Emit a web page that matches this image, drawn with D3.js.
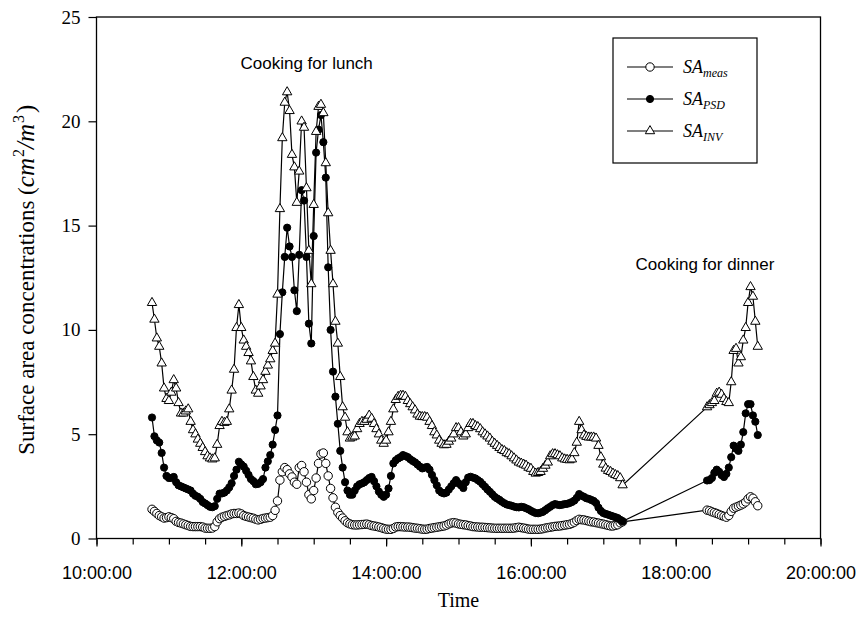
<!DOCTYPE html>
<html>
<head>
<meta charset="utf-8">
<script src="https://cdn.jsdelivr.net/npm/d3@7"></script>
<style>
  body { margin: 0; background: #fff; }
  svg { display: block; }
</style>
</head>
<body>
<div id="chart"></div>
<script>
// Sampling: one scan every 2 minutes, two measurement periods
var scanStep = 2;
var segmentStarts = ["10:46", "18:26"];

// SA_meas (open circles), cm2/m3
var measDay = [1.4,1.3,1.2,1.1,1.04,0.98,1.0,1.04,1.0,0.95,
  0.82,0.77,0.74,0.7,0.66,0.62,0.58,0.57,0.57,0.57,
  0.57,0.55,0.5,0.49,0.49,0.5,0.57,0.8,0.95,1.02,
  1.06,1.1,1.13,1.18,1.2,1.2,1.22,1.18,
  1.1,1.06,1.03,1.0,0.97,0.92,0.89,0.92,0.96,0.98,
  1.0,1.02,1.1,1.35,1.8,2.8,3.2,3.4,3.3,3.1,
  2.95,2.7,2.6,3.4,3.5,3.2,2.7,2.1,1.9,2.3,
  2.9,3.6,4.05,4.1,3.6,3.0,2.4,1.95,1.5,1.25,
  1.1,0.98,0.85,
  0.75,0.7,0.66,0.65,0.65,0.66,0.67,0.68,0.69,0.66,
  0.62,0.6,0.58,0.55,0.52,0.48,0.45,0.44,0.44,0.48,
  0.55,0.57,0.57,0.56,0.55,0.55,0.54,0.52,0.5,0.49,
  0.47,0.45,0.44,0.45,0.48,0.5,0.52,0.54,0.56,0.58,
  0.6,0.64,0.7,0.74,0.76,0.74,0.7,0.68,0.66,0.65,
  0.62,0.6,0.57,0.56,0.55,0.54,0.54,0.53,0.52,0.51,
  0.5,0.49,0.49,0.49,0.49,0.49,0.49,0.49,0.49,0.5,
  0.52,0.54,
  0.52,0.5,0.48,0.45,0.44,0.44,0.44,0.44,0.45,0.47,
  0.5,0.52,0.54,0.56,0.58,0.59,0.6,0.62,0.64,0.66,
  0.68,0.72,0.78,0.86,0.92,0.9,0.89,0.86,0.83,0.8,
  0.79,0.76,0.74,0.71,0.69,0.66,0.63,0.6,0.6,0.63,
  0.66,0.75,0.8];
var measEvening = [1.36,1.33,1.28,1.24,1.2,1.15,1.1,1.06,1.02,1.1,
  1.3,1.45,1.5,1.55,1.6,1.66,1.75,1.9,2.0,1.93,1.76,1.57];

// SA_PSD (filled circles)
var psdDay = [5.8,4.9,4.7,4.6,4.1,3.4,3.0,2.9,2.9,2.95,
  2.7,2.55,2.5,2.45,2.4,2.35,2.3,2.15,2.05,2.0,
  1.9,1.75,1.68,1.6,1.52,1.5,1.55,1.9,2.15,2.16,
  2.2,2.3,2.45,2.65,3.0,3.3,3.68,3.55,
  3.45,3.25,3.05,2.85,2.75,2.6,2.62,2.7,2.85,3.4,
  3.7,4.0,4.5,5.2,5.9,9.8,11.8,13.5,14.9,14.0,
  13.5,11.9,10.9,13.6,16.7,16.2,13.5,10.3,9.35,14.5,
  18.5,19.6,20.3,19.0,17.3,13.0,10.0,8.0,6.8,5.5,
  4.2,3.4,2.7,
  2.3,2.1,2.1,2.3,2.5,2.6,2.64,2.7,2.8,2.9,
  2.95,2.75,2.5,2.25,2.1,2.0,2.1,2.4,3.0,3.6,
  3.75,3.84,3.9,4.0,3.95,3.9,3.8,3.72,3.65,3.55,
  3.45,3.36,3.4,3.43,3.3,3.05,2.8,2.55,2.3,2.2,
  2.16,2.2,2.35,2.5,2.65,2.8,2.65,2.55,2.42,2.7,
  2.92,2.96,2.92,2.88,2.8,2.72,2.6,2.48,2.35,2.24,
  2.12,2.0,1.92,1.85,1.76,1.69,1.63,1.6,1.57,1.53,
  1.5,1.49,
  1.52,1.5,1.45,1.4,1.33,1.27,1.22,1.21,1.24,1.28,
  1.36,1.45,1.52,1.6,1.65,1.62,1.6,1.62,1.65,1.66,
  1.7,1.75,1.82,1.95,2.13,2.05,2.0,1.93,1.9,1.85,
  1.8,1.7,1.48,1.32,1.22,1.18,1.14,1.1,1.06,1.02,
  0.98,0.9,0.82];
var psdEvening = [2.78,2.8,2.9,3.15,3.3,3.2,3.04,2.95,3.1,3.4,
  3.9,4.45,4.3,4.2,4.5,5.1,6.0,6.44,6.44,5.9,5.6,4.96];

// SA_INV (open triangles)
var invDay = [11.3,10.5,9.6,9.2,8.4,7.2,6.7,6.6,7.0,7.6,
  7.2,6.5,6.0,6.0,6.1,6.2,5.6,5.2,5.0,4.75,
  4.55,4.35,4.15,3.95,3.85,3.8,3.85,4.5,5.4,5.6,
  5.55,5.6,6.2,7.1,8.1,10.1,11.2,10.1,
  9.5,9.2,8.9,8.5,7.75,7.1,6.95,7.3,7.6,8.0,
  8.3,8.6,9.0,9.35,11.7,15.8,19.2,20.9,21.4,20.5,
  18.4,17.8,16.1,17.6,20.0,19.7,16.8,13.8,12.2,16.0,
  19.5,20.7,20.8,20.4,18.0,15.6,13.8,12.2,10.4,9.35,
  7.75,6.3,5.8,
  5.1,4.8,4.85,4.9,5.25,5.5,5.6,5.6,5.7,5.9,
  5.75,5.5,5.25,5.0,4.7,4.55,4.7,5.1,5.6,6.2,
  6.65,6.8,6.85,6.85,6.8,6.6,6.45,6.3,6.15,5.95,
  5.85,5.83,5.83,5.8,5.6,5.4,5.1,4.95,4.7,4.55,
  4.48,4.5,4.65,4.8,5.0,5.3,5.3,5.1,4.9,5.0,
  5.3,5.5,5.5,5.4,5.35,5.25,5.1,5.0,4.9,4.8,
  4.65,4.55,4.45,4.35,4.25,4.2,4.1,4.05,3.95,3.85,
  3.75,3.65,
  3.6,3.55,3.5,3.4,3.35,3.2,3.12,3.15,3.2,3.35,
  3.5,3.65,3.95,4.05,4.05,4.0,3.95,3.85,3.8,3.78,
  3.76,3.8,4.1,4.6,5.6,5.2,4.95,4.88,4.85,4.85,
  4.85,4.8,4.45,3.9,3.55,3.36,3.25,3.2,3.12,3.05,
  3.0,2.9,2.56];
var invEvening = [6.3,6.4,6.5,6.6,6.95,7.0,6.9,6.7,6.55,6.5,
  7.5,9.0,9.1,8.4,8.7,9.5,10.1,11.3,12.06,11.6,10.4,9.2];

var yTicks = [0, 5, 10, 15, 20, 25];

// Define SVG area dimensions
var svgWidth = 867;
var svgHeight = 626;

var margin = { top: 17, right: 46.5, bottom: 87.5, left: 96.5 };
var width = svgWidth - margin.left - margin.right;
var height = svgHeight - margin.top - margin.bottom;

var parseTime = d3.timeParse("%H:%M");

// turn a segment of values into {time, value} points
function toPoints(start, values) {
    var t0 = parseTime(start);
    return values.map(function(v, i) {
        return { time: d3.timeMinute.offset(t0, i * scanStep), value: v };
    });
}

var series = [
    { key: "meas", data: toPoints(segmentStarts[0], measDay).concat(toPoints(segmentStarts[1], measEvening)) },
    { key: "psd", data: toPoints(segmentStarts[0], psdDay).concat(toPoints(segmentStarts[1], psdEvening)) },
    { key: "inv", data: toPoints(segmentStarts[0], invDay).concat(toPoints(segmentStarts[1], invEvening)) }
];

var svg = d3.select("#chart")
    .append("svg")
    .attr("width", svgWidth)
    .attr("height", svgHeight);

var chartGroup = svg.append("g")
    .attr("transform", `translate(${margin.left}, ${margin.top})`);

var xScale = d3.scaleTime()
    .domain([parseTime("10:00"), parseTime("20:00")])
    .range([0, width]);

var yScale = d3.scaleLinear()
    .domain([0, 25])
    .range([height, 0]);

// minor ticks every 30 min
chartGroup.append("g")
    .attr("transform", `translate(0, ${height})`)
    .call(d3.axisBottom(xScale).ticks(d3.timeMinute.every(30)).tickSize(6).tickFormat(""))
    .call(g => g.select(".domain").remove())
    .selectAll("line").attr("stroke", "#000").attr("stroke-width", 1.2);

var xAxis = chartGroup.append("g")
    .attr("transform", `translate(0, ${height})`)
    .call(d3.axisBottom(xScale).ticks(d3.timeHour.every(2)).tickSize(8).tickPadding(20)
        .tickFormat(d3.timeFormat("%H:%M:%S")));
xAxis.selectAll("text")
    .attr("font-family", "'Liberation Sans', Arial, sans-serif")
    .attr("font-size", "18px")
    .attr("fill", "#000");

var yAxis = chartGroup.append("g")
    .call(d3.axisLeft(yScale).tickValues(yTicks).tickSize(8).tickPadding(8));
yAxis.selectAll("text")
    .attr("font-family", "'Liberation Serif', 'Times New Roman', serif")
    .attr("font-size", "19px")
    .attr("fill", "#000");

[xAxis, yAxis].forEach(function(ax) {
    ax.selectAll("line").attr("stroke", "#000").attr("stroke-width", 1.2);
    ax.select(".domain").remove();
});

// frame
chartGroup.append("rect")
    .attr("width", width)
    .attr("height", height)
    .attr("fill", "none")
    .attr("stroke", "#000")
    .attr("stroke-width", 1.3);

var line = d3.line()
    .x(d => xScale(d.time))
    .y(d => yScale(d.value));

var triangle = d3.symbol().type(d3.symbolTriangle).size(38);

function drawMarker(sel, key) {
    if (key === "inv") {
        sel.append("path")
            .attr("d", triangle)
            .attr("fill", "#fff")
            .attr("stroke", "#000")
            .attr("stroke-width", 1);
    } else {
        sel.append("circle")
            .attr("r", key === "meas" ? 4.2 : 3.6)
            .attr("fill", key === "meas" ? "#fff" : "#000")
            .attr("stroke", "#000")
            .attr("stroke-width", 1);
    }
}

series.forEach(function(s) {
    var g = chartGroup.append("g").attr("class", "series-" + s.key);
    g.append("path")
        .datum(s.data)
        .attr("d", line)
        .attr("fill", "none")
        .attr("stroke", "#000")
        .attr("stroke-width", 1.2);

    g.selectAll("g.pt")
        .data(s.data)
        .enter()
        .append("g")
        .attr("class", "pt")
        .attr("transform", d => `translate(${xScale(d.time)}, ${yScale(d.value)})`)
        .each(function() { drawMarker(d3.select(this), s.key); });
});

// annotations
chartGroup.append("text")
    .attr("x", 144)
    .attr("y", 52)
    .attr("font-family", "'Liberation Sans', Arial, sans-serif")
    .attr("font-size", "17px")
    .text("Cooking for lunch");

chartGroup.append("text")
    .attr("x", 539)
    .attr("y", 253)
    .attr("font-family", "'Liberation Sans', Arial, sans-serif")
    .attr("font-size", "17px")
    .text("Cooking for dinner");

// legend
var legend = svg.append("g")
    .attr("transform", "translate(613, 38)");

legend.append("rect")
    .attr("width", 144)
    .attr("height", 125)
    .attr("fill", "#fff")
    .attr("stroke", "#000")
    .attr("stroke-width", 1.2);

var legendItems = [
    { key: "meas", sub: "meas" },
    { key: "psd", sub: "PSD" },
    { key: "inv", sub: "INV" }
];

legendItems.forEach(function(item, i) {
    var row = legend.append("g")
        .attr("transform", `translate(0, ${29 + i * 32})`);
    row.append("line")
        .attr("x1", 14).attr("x2", 60)
        .attr("stroke", "#000").attr("stroke-width", 1.2);
    drawMarker(row.append("g").attr("transform", "translate(37, 0)"), item.key);
    var t = row.append("text")
        .attr("x", 70)
        .attr("y", 6)
        .attr("font-family", "'Liberation Serif', 'Times New Roman', serif")
        .attr("font-style", "italic")
        .attr("font-size", "18px");
    t.append("tspan").text("SA");
    t.append("tspan").attr("dy", 4).attr("font-size", "12px").text(item.sub);
});

// axis titles
svg.append("text")
    .attr("x", margin.left + width / 2)
    .attr("y", 607)
    .attr("text-anchor", "middle")
    .attr("font-family", "'Liberation Serif', 'Times New Roman', serif")
    .attr("font-size", "20px")
    .text("Time");

var yTitle = svg.append("text")
    .attr("transform", `translate(34, ${margin.top + height / 2 + 2}) rotate(-90)`)
    .attr("text-anchor", "middle")
    .attr("font-family", "'Liberation Serif', 'Times New Roman', serif")
    .attr("font-size", "23px");
yTitle.append("tspan").text("Surface area concentrations (");
yTitle.append("tspan").attr("font-style", "italic").attr("font-size", "25px").text("cm");
yTitle.append("tspan").attr("dy", -10).attr("dx", 1).attr("font-size", "16px").text("2");
yTitle.append("tspan").attr("dy", 10).attr("font-style", "italic").attr("font-size", "25px").text("/m");
yTitle.append("tspan").attr("dy", -10).attr("dx", 1).attr("font-size", "16px").text("3");
yTitle.append("tspan").attr("dy", 10).attr("dx", 2).attr("font-size", "25px").text(")");
</script>
</body>
</html>
